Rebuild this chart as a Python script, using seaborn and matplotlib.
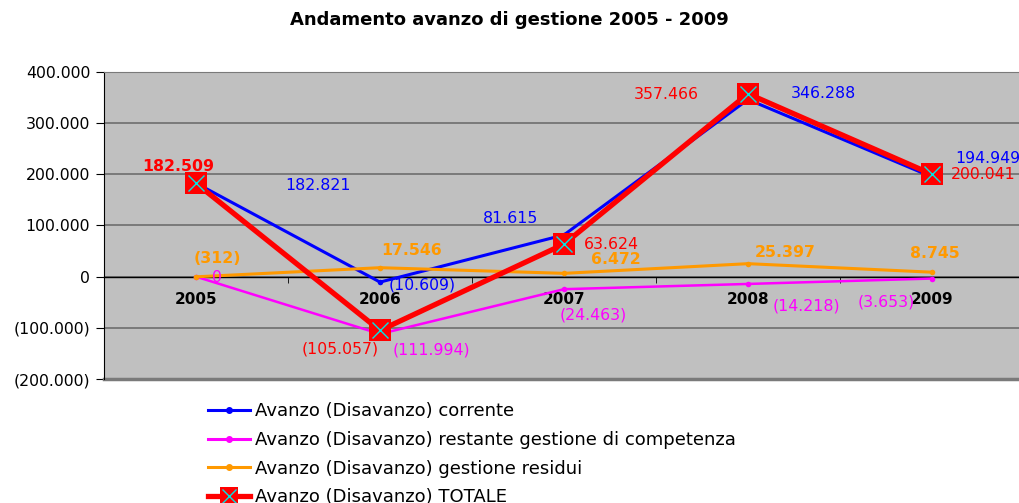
import matplotlib
matplotlib.use("Agg")
import matplotlib.pyplot as plt
import seaborn as sns
from matplotlib.lines import Line2D
from matplotlib.ticker import FuncFormatter, MultipleLocator

# dati (euro)
years = ["2005", "2006", "2007", "2008", "2009"]
corrente = [182821, -10609, 81615, 346288, 194949]
competenza = [0, -111994, -24463, -14218, -3653]
residui = [-312, 17546, 6472, 25397, 8745]
totale = [182509, -105057, 63624, 357466, 200041]

names = [
    "Avanzo (Disavanzo) corrente",
    "Avanzo (Disavanzo) restante gestione di competenza",
    "Avanzo (Disavanzo) gestione residui",
    "Avanzo (Disavanzo) TOTALE",
]
colors = ["#0000FF", "#FF00FF", "#FF9900", "#FF0000"]

# posizione delle etichette (pixel rispetto al punto), come nel grafico Excel
offsets = [
    [(122, -2), (42, -3), (-53, 16), (75, 6), (56, 18)],
    [(21, -1), (51, -16), (29, -26), (58, -22), (-46, -23)],
    [(21, 18), (32, 17), (52, 14), (37, 11), (3, 19)],
    [(-18, 17), (-40, -19), (47, 0), (-82, -1), (51, 0)],
]


def fmt_it(v, pos=None):
    s = f"{abs(v):,.0f}".replace(",", ".")
    return f"({s})" if v < 0 else s


plt.rcParams["font.family"] = ["DejaVu Sans"]
fig = plt.figure(figsize=(10.19, 5.03), dpi=100)
ax = fig.add_axes([104 / 1019, 1 - 379 / 503, 920 / 1019, 307 / 503])
ax.set_facecolor("#C0C0C0")

x = list(range(len(years)))
sns.lineplot(x=x, y=corrente, color=colors[0], linewidth=2.2, marker="o",
             markersize=4, markeredgewidth=0, ax=ax, zorder=3)
sns.lineplot(x=x, y=competenza, color=colors[1], linewidth=1.8, marker="o",
             markersize=4, markeredgewidth=0, ax=ax, zorder=3)
sns.lineplot(x=x, y=residui, color=colors[2], linewidth=2.2, marker="o",
             markersize=4, markeredgewidth=0, ax=ax, zorder=3)
sns.lineplot(x=x, y=totale, color=colors[3], linewidth=3.8, marker="s",
             markersize=16, markeredgewidth=0, ax=ax, zorder=4)
ax.plot(x, totale, linestyle="none", marker="x", markersize=12,
        markeredgewidth=1, color="#00E5E5", zorder=5)

# etichette dati
all_series = [corrente, competenza, residui, totale]
for k, vals in enumerate(all_series):
    for i, v in enumerate(vals):
        bold = k == 2 or (k == 3 and i == 0)
        ax.annotate(fmt_it(v), (i, v), xytext=offsets[k][i],
                    textcoords="offset pixels", ha="center", va="center",
                    color=colors[k], fontsize=11.3,
                    fontweight="bold" if bold else "normal", zorder=6,
                    annotation_clip=False)

ax.set_xlim(-0.5, 4.5)
ax.set_ylim(-200000, 400000)
ax.yaxis.set_major_locator(MultipleLocator(100000))
ax.yaxis.set_major_formatter(FuncFormatter(fmt_it))
ax.grid(axis="y", color="#7A7A7A", linewidth=1.4)
ax.grid(axis="x", visible=False)
ax.set_axisbelow(True)

ax.spines["bottom"].set_position(("data", 0))
ax.spines["bottom"].set_color("#000000")
ax.spines["bottom"].set_linewidth(1)
ax.spines["left"].set_color("#000000")
ax.spines["top"].set_color("#7A7A7A")
ax.spines["right"].set_visible(False)
ax.axhline(-200000, color="#7A7A7A", linewidth=2.5, clip_on=False)

ax.set_xticks(x)
ax.set_xticklabels(years, fontweight="bold", fontsize=11)
ax.set_xticks([0.5, 1.5, 2.5, 3.5], minor=True)
ax.tick_params(axis="x", which="major", length=0, pad=11)
ax.tick_params(axis="x", which="minor", length=4, direction="out", color="#000000")
ax.tick_params(axis="y", length=6, labelsize=11.3, pad=4, color="#000000")
ax.set_xlabel("")
ax.set_ylabel("")

fig.suptitle("Andamento avanzo di gestione 2005 - 2009", fontsize=13,
             fontweight="bold", x=0.5, y=1 - 20 / 503, va="center")

handles = [
    Line2D([], [], color=colors[0], linewidth=2.2, marker="o", markersize=4),
    Line2D([], [], color=colors[1], linewidth=2.2, marker="o", markersize=4),
    Line2D([], [], color=colors[2], linewidth=2.2, marker="o", markersize=4),
    (Line2D([], [], color=colors[3], linewidth=3.8, marker="s", markersize=13,
            markeredgewidth=0),
     Line2D([], [], linestyle="none", marker="x", markersize=10,
            markeredgewidth=1, color="#00E5E5")),
]
fig.legend(handles, names, loc="upper left",
           bbox_to_anchor=(208 / 1019, 1 - 402 / 503), frameon=False,
           fontsize=13, handlelength=2.3, handletextpad=0.3,
           labelspacing=0.6, borderpad=0, borderaxespad=0)

fig.savefig("out.png", dpi=100, facecolor="white")
